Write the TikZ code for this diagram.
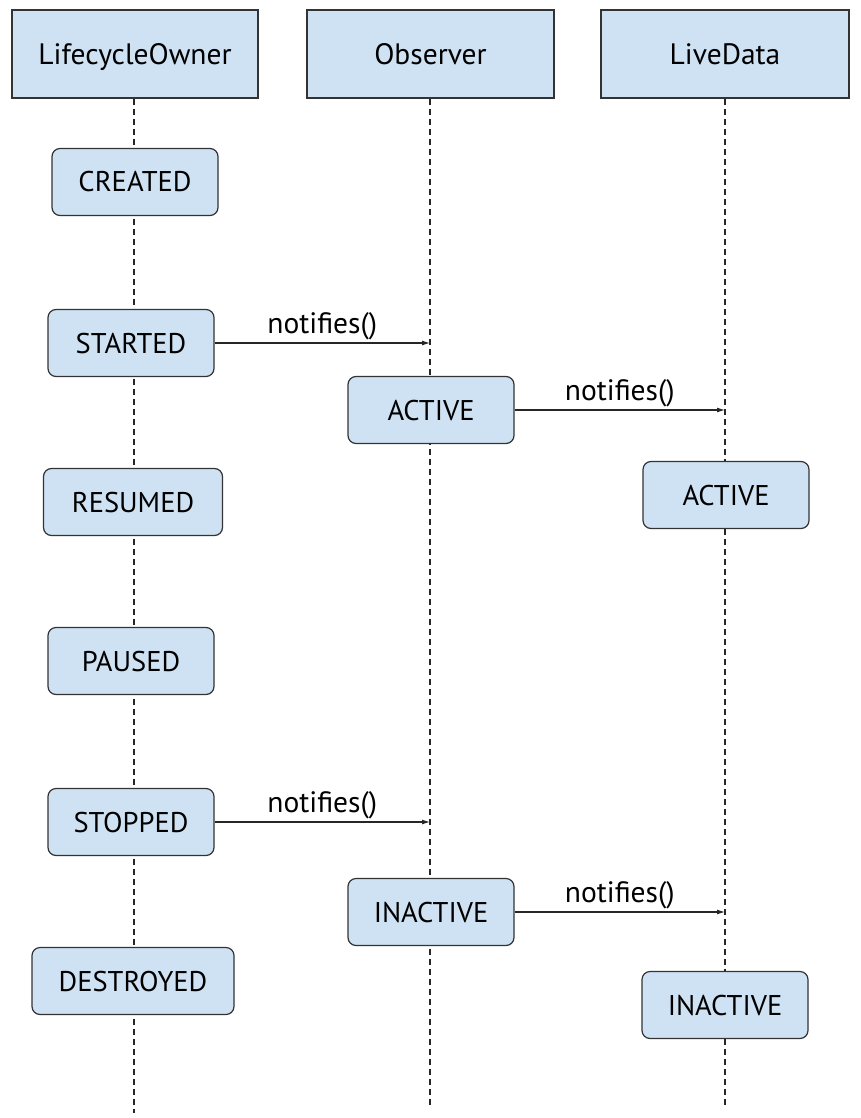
\documentclass[tikz,border=0pt]{standalone}
\usepackage{fontspec}
\setmainfont{PT Sans}
\usetikzlibrary{arrows.meta,backgrounds}
\definecolor{boxfill}{HTML}{CFE2F3}
\definecolor{boxline}{HTML}{333333}
\tikzset{
  bigfont/.style={font=\fontsize{29.5}{34}\selectfont},
  header/.style={draw=boxline, line width=1.2pt, fill=boxfill, minimum height=88pt, bigfont, inner sep=0pt, text height=21pt, text depth=0pt},
  state/.style={draw=boxline, line width=1.2pt, fill=boxfill, rounded corners=8pt, minimum width=166pt, minimum height=67pt, font=\fontsize{28.5}{34}\selectfont, inner sep=0pt, text height=20pt, text depth=0pt},
  lifeline/.style={draw=black!85, line width=1.1pt, dash pattern=on 6pt off 4pt},
  msg/.style={draw=black!85, line width=1.1pt, -{Latex[length=8pt,width=5pt]}},
  lbl/.style={bigfont, inner sep=2pt, above}
}
\begin{document}
\begin{tikzpicture}[x=1pt,y=-1pt]
\useasboundingbox (0,0) rectangle (861,1118);
% headers
\node[header, minimum width=246pt] (lo) at (135,54) {LifecycleOwner};
\node[header, minimum width=247pt] (ob) at (430.5,54) {Observer};
\node[header, minimum width=248pt] (ld) at (725,54) {LiveData};
% lifeline ends
\coordinate (loend) at (134,1113);
\coordinate (obend) at (430,1105);
\coordinate (ldend) at (725,1108);
% LifecycleOwner states
\node[state] (created) at (135,182) {CREATED};
\node[state] (started) at (131,343) {STARTED};
\node[state, minimum width=179pt] (resumed) at (133,502) {RESUMED};
\node[state] (paused) at (131,661) {PAUSED};
\node[state] (stopped) at (131,822) {STOPPED};
\node[state, minimum width=202pt] (destroyed) at (133,981) {DESTROYED};
% Observer states
\node[state] (obactive) at (431,410) {ACTIVE};
\node[state] (obinactive) at (431,912) {INACTIVE};
% LiveData states
\node[state] (ldactive) at (726,495) {ACTIVE};
\node[state] (ldinactive) at (725,1005) {INACTIVE};
% lifelines
\begin{scope}[on background layer]
\draw[lifeline] (lo.south -| loend) -- (loend);
\draw[lifeline] (ob.south -| obend) -- (obend);
\draw[lifeline] (ld.south -| ldend) -- (ldend);
\end{scope}
% messages
\draw[msg] (started.east) -- (started.east -| obend) node[lbl, midway] {notifies()};
\draw[msg] (obactive.east) -- (obactive.east -| ldend) node[lbl, midway] {notifies()};
\draw[msg] (stopped.east) -- (stopped.east -| obend) node[lbl, midway] {notifies()};
\draw[msg] (obinactive.east) -- (obinactive.east -| ldend) node[lbl, midway] {notifies()};
\end{tikzpicture}
\end{document}
